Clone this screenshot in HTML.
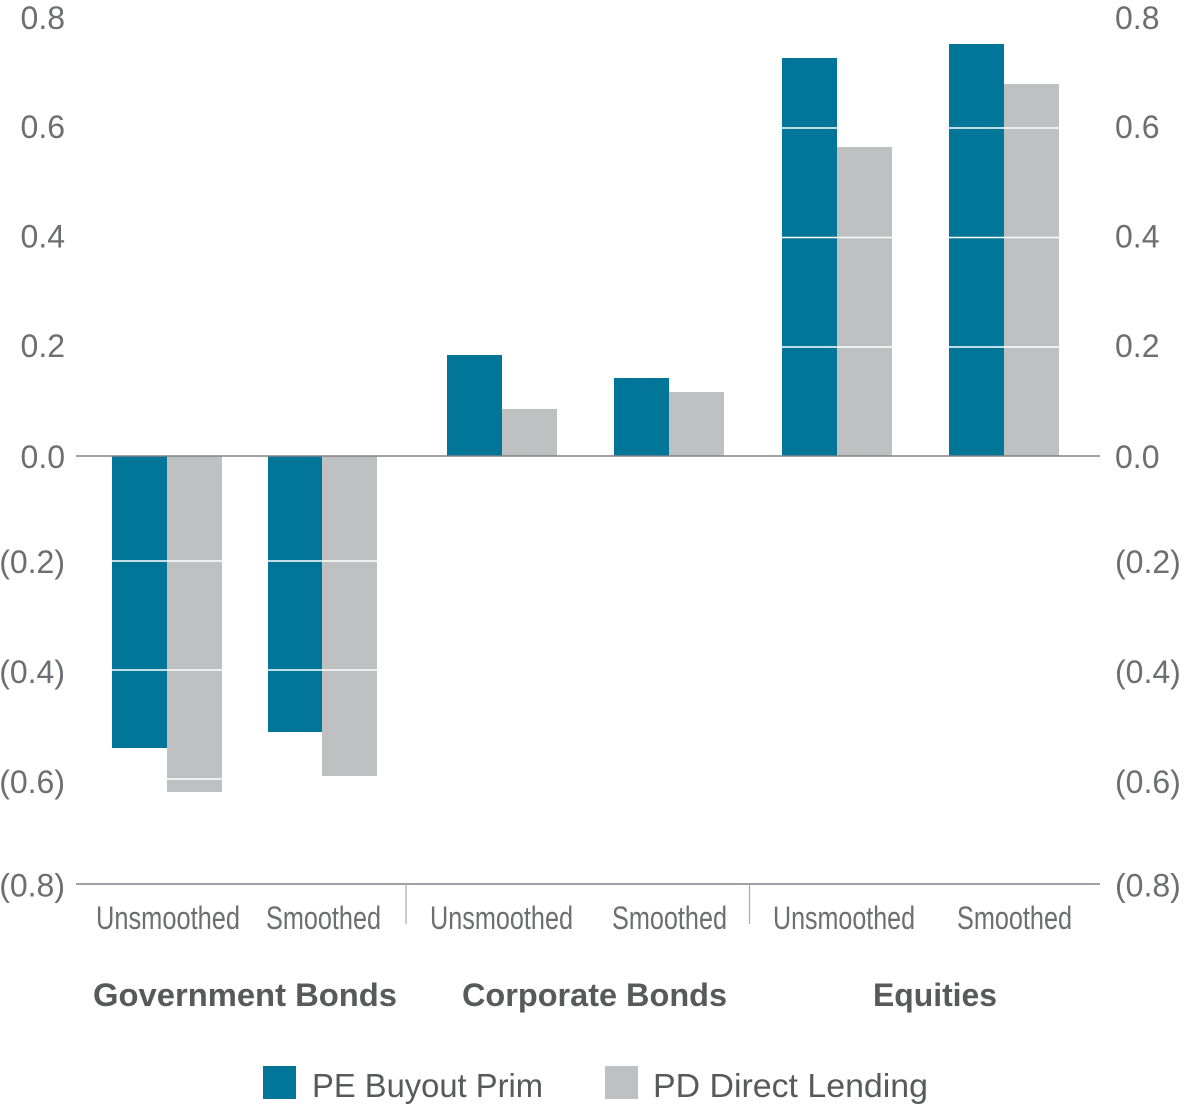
<!DOCTYPE html>
<html>
<head>
<meta charset="utf-8">
<style>
  html, body { margin:0; padding:0; background:#ffffff; }
  body { width:1190px; height:1109px; overflow:hidden; }
  svg { display:block; }
  .tick { font-family:"Liberation Sans", sans-serif; font-size:32px; fill:#6d6e71; }
  .cat { font-family:"Liberation Sans", sans-serif; font-size:32px; fill:#6d6e71; }
  .grp { font-family:"Liberation Sans", sans-serif; font-size:32px; font-weight:bold; fill:#58595b; }
  .leg { font-family:"Liberation Sans", sans-serif; font-size:33px; fill:#58595b; }
</style>
</head>
<body>
<svg width="1190" height="1109" viewBox="0 0 1190 1109" xmlns="http://www.w3.org/2000/svg">
  <rect x="0" y="0" width="1190" height="1109" fill="#ffffff"/>

  <!-- Bars: Government Bonds -->
  <rect x="112" y="456" width="55" height="292" fill="#017698"/>
  <rect x="167" y="456" width="55" height="336" fill="#bfc0c2"/>
  <rect x="268" y="456" width="54" height="276" fill="#017698"/>
  <rect x="322" y="456" width="55" height="320" fill="#bfc0c2"/>

  <!-- Corporate Bonds -->
  <rect x="447" y="355" width="55" height="101" fill="#017698"/>
  <rect x="502" y="409" width="55" height="47" fill="#bfc0c2"/>
  <rect x="614" y="378" width="55" height="78" fill="#017698"/>
  <rect x="669" y="392" width="55" height="64" fill="#bfc0c2"/>

  <!-- Equities -->
  <rect x="782" y="58" width="55" height="398" fill="#017698"/>
  <rect x="837" y="147" width="55" height="309" fill="#bfc0c2"/>
  <rect x="949" y="44" width="55" height="412" fill="#017698"/>
  <rect x="1004" y="84" width="55" height="372" fill="#bfc0c2"/>

  <!-- White gridlines through bars -->
  <g stroke="#ffffff" stroke-width="1.6">
    <line x1="76" y1="128" x2="1100" y2="128"/>
    <line x1="76" y1="237.5" x2="1100" y2="237.5"/>
    <line x1="76" y1="347" x2="1100" y2="347"/>
    <line x1="76" y1="561" x2="1100" y2="561"/>
    <line x1="76" y1="670" x2="1100" y2="670"/>
    <line x1="76" y1="779" x2="1100" y2="779"/>
  </g>

  <!-- Axes -->
  <line x1="76" y1="456" x2="1100" y2="456" stroke="#808285" stroke-width="1.6"/>
  <line x1="76" y1="884" x2="1100" y2="884" stroke="#808285" stroke-width="1.6"/>
  <line x1="406" y1="884" x2="406" y2="924" stroke="#a7a9ac" stroke-width="1.2"/>
  <line x1="749.5" y1="884" x2="749.5" y2="924" stroke="#a7a9ac" stroke-width="1.2"/>

  <!-- Left tick labels -->
  <g class="tick" text-anchor="end">
    <text x="65" y="29">0.8</text>
    <text x="65" y="138">0.6</text>
    <text x="65" y="247.5">0.4</text>
    <text x="65" y="357">0.2</text>
    <text x="65" y="468">0.0</text>
    <text x="65" y="573">(0.2)</text>
    <text x="65" y="683">(0.4)</text>
    <text x="65" y="793">(0.6)</text>
    <text x="65" y="896.5">(0.8)</text>
  </g>

  <!-- Right tick labels -->
  <g class="tick" text-anchor="start">
    <text x="1115" y="29">0.8</text>
    <text x="1115" y="138">0.6</text>
    <text x="1115" y="247.5">0.4</text>
    <text x="1115" y="357">0.2</text>
    <text x="1115" y="468">0.0</text>
    <text x="1115" y="573">(0.2)</text>
    <text x="1115" y="683">(0.4)</text>
    <text x="1115" y="793">(0.6)</text>
    <text x="1115" y="896.5">(0.8)</text>
  </g>

  <!-- Category labels -->
  <g class="cat">
    <text x="96" y="929" textLength="144" lengthAdjust="spacingAndGlyphs">Unsmoothed</text>
    <text x="266" y="929" textLength="115" lengthAdjust="spacingAndGlyphs">Smoothed</text>
    <text x="430" y="929" textLength="143" lengthAdjust="spacingAndGlyphs">Unsmoothed</text>
    <text x="612" y="929" textLength="115" lengthAdjust="spacingAndGlyphs">Smoothed</text>
    <text x="773" y="929" textLength="142" lengthAdjust="spacingAndGlyphs">Unsmoothed</text>
    <text x="957" y="929" textLength="115" lengthAdjust="spacingAndGlyphs">Smoothed</text>
  </g>

  <!-- Group labels -->
  <g class="grp">
    <text x="93" y="1006" textLength="304" lengthAdjust="spacingAndGlyphs">Government Bonds</text>
    <text x="462" y="1006" textLength="265" lengthAdjust="spacingAndGlyphs">Corporate Bonds</text>
    <text x="873" y="1006" textLength="124" lengthAdjust="spacingAndGlyphs">Equities</text>
  </g>

  <!-- Legend -->
  <rect x="263" y="1066" width="33" height="33" fill="#017698"/>
  <text class="leg" x="312" y="1097" textLength="231" lengthAdjust="spacingAndGlyphs">PE Buyout Prim</text>
  <rect x="605" y="1066" width="33" height="33" fill="#bfc0c2"/>
  <text class="leg" x="653" y="1097" textLength="275" lengthAdjust="spacingAndGlyphs">PD Direct Lending</text>
</svg>
</body>
</html>
